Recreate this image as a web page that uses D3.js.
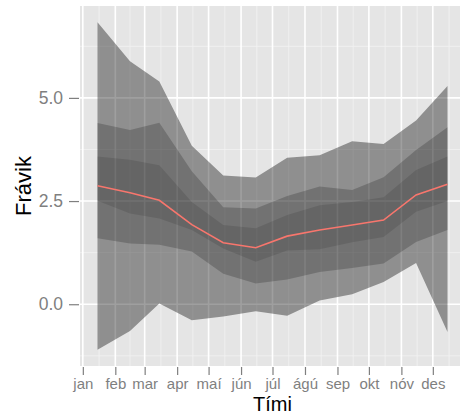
<!DOCTYPE html>
<html>
<head>
<meta charset="utf-8">
<script src="https://cdn.jsdelivr.net/npm/d3@7"></script>
<style>
  body { margin: 0; background: #fff; }
  text { font-family: "Liberation Sans", Arial, sans-serif; }
</style>
</head>
<body>
<div id="chart"></div>
<script>
// month names (x tick labels)
const months = ["jan", "feb", "mar", "apr", "maí", "jún", "júl", "ágú", "sep", "okt", "nóv", "des"];
const yTicks = [0, 2.5, 5];

// band edges, one value per month
const outerHi  = [6.83, 5.89, 5.40, 3.84, 3.12, 3.07, 3.55, 3.61, 3.95, 3.88, 4.45, 5.29];
const middleHi = [4.39, 4.22, 4.40, 3.22, 2.35, 2.32, 2.62, 2.85, 2.77, 3.08, 3.74, 4.29];
const innerHi  = [3.58, 3.50, 3.37, 2.48, 1.92, 1.84, 2.16, 2.40, 2.48, 2.59, 3.25, 3.58];
const median   = [2.87, 2.70, 2.52, 1.93, 1.49, 1.37, 1.65, 1.80, 1.92, 2.04, 2.65, 2.91];
const innerLo  = [2.51, 2.20, 2.08, 1.80, 1.35, 1.03, 1.30, 1.33, 1.50, 1.63, 2.24, 2.50];
const middleLo = [1.60, 1.47, 1.44, 1.28, 0.74, 0.50, 0.60, 0.78, 0.88, 0.99, 1.51, 1.80];
const outerLo  = [-1.10, -0.65, 0.02, -0.39, -0.30, -0.17, -0.28, 0.09, 0.24, 0.54, 1.00, -0.67];

const W = 460, H = 416;
const pL = 80, pT = 6, pR = 465, pB = 366;

const dates = months.map((m, i) => new Date(2013, i, 15));
const span = dates[11] - dates[0];
const x = d3.scaleTime()
    .domain([new Date(+dates[0] - span * 0.05), new Date(+dates[11] + span * 0.05)])
    .range([pL, pR]);

const allVals = outerHi.concat(outerLo);
const yMin = d3.min(allVals), yMax = d3.max(allVals);
const y = d3.scaleLinear()
    .domain([yMin - (yMax - yMin) * 0.05, yMax + (yMax - yMin) * 0.05])
    .range([pB, pT]);

const svg = d3.select('#chart').append('svg')
    .attr('width', W)
    .attr('height', H);

svg.append('clipPath').attr('id', 'panel')
  .append('rect').attr('x', pL).attr('y', pT).attr('width', pR - pL).attr('height', pB - pT);

const g = svg.append('g').attr('clip-path', 'url(#panel)');

g.append('rect')
    .attr('x', pL).attr('y', pT)
    .attr('width', pR - pL).attr('height', pB - pT)
    .attr('fill', '#e5e5e5');

// gridlines
const monthStarts = d3.range(0, 13).map(i => new Date(2013, i, 1));
const xMinor = d3.range(0, 12).map(i => new Date((+monthStarts[i] + +monthStarts[i + 1]) / 2));
const yMinor = [-1.25, 1.25, 3.75, 6.25];

g.selectAll('.xminor').data(xMinor).enter().append('line')
    .attr('x1', d => x(d)).attr('x2', d => x(d))
    .attr('y1', pT).attr('y2', pB)
    .attr('stroke', '#f2f2f2').attr('stroke-width', 0.8);
g.selectAll('.yminor').data(yMinor).enter().append('line')
    .attr('x1', pL).attr('x2', pR)
    .attr('y1', d => y(d)).attr('y2', d => y(d))
    .attr('stroke', '#f2f2f2').attr('stroke-width', 0.8);
g.selectAll('.xmajor').data(monthStarts).enter().append('line')
    .attr('x1', d => x(d)).attr('x2', d => x(d))
    .attr('y1', pT).attr('y2', pB)
    .attr('stroke', '#fff').attr('stroke-width', 1.6);
g.selectAll('.ymajor').data(yTicks).enter().append('line')
    .attr('x1', pL).attr('x2', pR)
    .attr('y1', d => y(d)).attr('y2', d => y(d))
    .attr('stroke', '#fff').attr('stroke-width', 1.6);

// ribbons
const area = (lo, hi) => d3.area()
    .x((d, i) => x(dates[i]))
    .y0((d, i) => y(lo[i]))
    .y1((d, i) => y(hi[i]))(months);

g.append('path').attr('d', area(outerLo, outerHi)).attr('fill', '#000').attr('fill-opacity', 0.375);
g.append('path').attr('d', area(middleLo, middleHi)).attr('fill', '#000').attr('fill-opacity', 0.2);
g.append('path').attr('d', area(innerLo, innerHi)).attr('fill', '#000').attr('fill-opacity', 0.11);

g.append('path')
    .attr('d', d3.line().x((d, i) => x(dates[i])).y(d => y(d))(median))
    .attr('fill', 'none')
    .attr('stroke', '#f8766d')
    .attr('stroke-width', 1.6);

// axes
const xAxis = d3.axisBottom(x)
    .tickValues(monthStarts.slice(0, 12))
    .tickFormat((d, i) => months[i])
    .tickSize(8).tickPadding(3);
const xg = svg.append('g').attr('transform', `translate(0,${pB + 1})`).call(xAxis);
xg.select('.domain').remove();
xg.selectAll('line').attr('stroke', '#7f7f7f').attr('stroke-width', 1.2);
xg.selectAll('text').attr('fill', '#7f7f7f').style('font-size', '15px');

const yAxis = d3.axisLeft(y)
    .tickValues(yTicks)
    .tickFormat(d3.format('.1f'))
    .tickSize(10).tickPadding(6);
const yg = svg.append('g').attr('transform', `translate(${pL - 1},0)`).call(yAxis);
yg.select('.domain').remove();
yg.selectAll('line').attr('stroke', '#7f7f7f').attr('stroke-width', 1.2);
yg.selectAll('text').attr('fill', '#7f7f7f').style('font-size', '17.5px');

svg.append('text')
    .attr('x', (pL + pR) / 2).attr('y', 411)
    .attr('text-anchor', 'middle')
    .style('font-size', '20px')
    .text('Tími');

svg.append('text')
    .attr('transform', `translate(31,${(pT + pB) / 2}) rotate(-90)`)
    .attr('text-anchor', 'middle')
    .style('font-size', '22px')
    .text('Frávik');
</script>
</body>
</html>
